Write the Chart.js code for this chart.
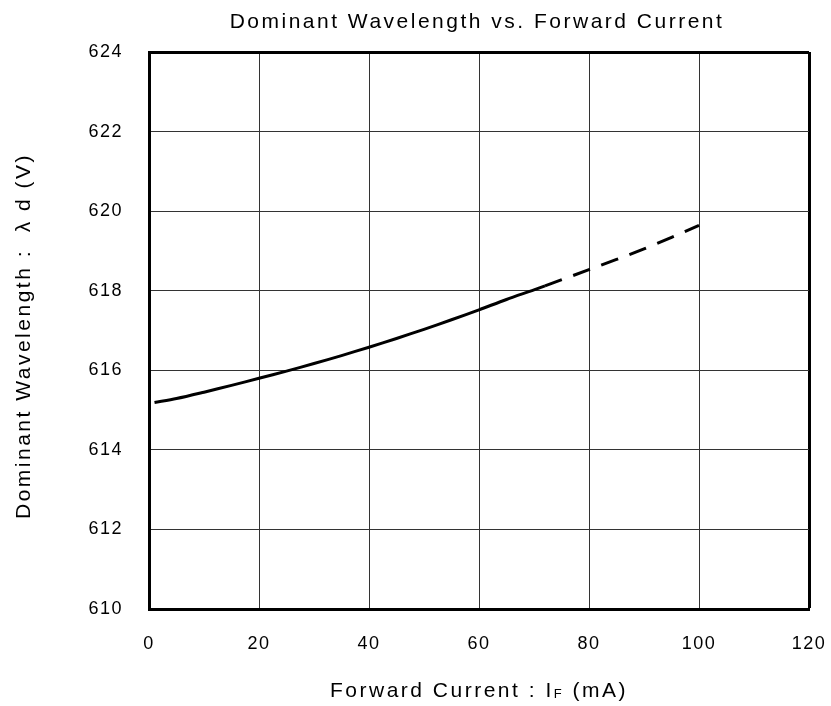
<!DOCTYPE html>
<html>
<head>
<meta charset="utf-8">
<script src="https://cdn.jsdelivr.net/npm/chart.js@4"></script>
<style>
  html, body { margin: 0; padding: 0; background: #fff; }
  #wrap { width: 831px; height: 706px; }
</style>
</head>
<body>
<div id="wrap"><canvas id="c" width="831" height="706"></canvas></div>
<script>
// ---- data ----
const solidCurrent = [1, 5, 10, 15, 20, 25, 30, 35, 40, 45, 50, 55, 60, 65, 70, 72];
const solidWavelength = [615.19, 615.29, 615.45, 615.62, 615.8, 615.98, 616.17, 616.37, 616.58, 616.8, 617.03, 617.27, 617.52, 617.78, 618.02, 618.12];
const dashCurrent = [72, 80, 90, 100];
const dashWavelength = [618.12, 618.53, 619.05, 619.64];
const xTicks = [0, 20, 40, 60, 80, 100, 120];
const yTicks = [610, 612, 614, 616, 618, 620, 622, 624];
const chartTitle = 'Dominant Wavelength vs. Forward Current';
const yTitle = 'Dominant Wavelength :  λ d (V)';
const xTitleMain = 'Forward Current : I';
const xTitleSub = 'F';
const xTitleEnd = ' (mA)';

const FONT = "'Liberation Sans', Arial, sans-serif";
const TICK_SPACING = '1.5px';
const TITLE_SPACING = '2.5px';

function toPoints(xs, ys) { return xs.map((x, i) => ({ x: x, y: ys[i] })); }

const spacingPlugin = {
  id: 'spacing',
  beforeUpdate(chart) { chart.ctx.letterSpacing = TICK_SPACING; },
  beforeLayout(chart) { chart.ctx.letterSpacing = TICK_SPACING; },
  beforeDraw(chart) { chart.ctx.letterSpacing = TICK_SPACING; }
};

const titlesPlugin = {
  id: 'titles',
  afterDraw(chart) {
    const ctx = chart.ctx;
    const a = chart.chartArea;
    const cx = (a.left + a.right) / 2;
    const big = '21px ' + FONT, small = '13px ' + FONT;
    ctx.save();
    ctx.letterSpacing = TITLE_SPACING;
    ctx.fillStyle = '#000';
    ctx.textBaseline = 'alphabetic';

    // chart title
    ctx.font = big;
    ctx.textAlign = 'center';
    ctx.fillText(chartTitle, cx - 2, 27.5);

    // x-axis title with subscript
    ctx.textAlign = 'left';
    ctx.font = big; const w1 = ctx.measureText(xTitleMain).width;
    ctx.font = small; const w2 = ctx.measureText(xTitleSub).width;
    ctx.font = big; const w3 = ctx.measureText(xTitleEnd).width;
    let x = cx - (w1 + w2 + w3) / 2;
    const y = 697;
    ctx.font = big; ctx.fillText(xTitleMain, x, y); x += w1;
    ctx.font = small; ctx.fillText(xTitleSub, x, y + 1); x += w2;
    ctx.font = big; ctx.fillText(xTitleEnd, x, y);

    // y-axis title
    ctx.translate(30, 336);
    ctx.rotate(-Math.PI / 2);
    ctx.textAlign = 'center';
    ctx.font = big;
    ctx.fillText(yTitle, 0, 0);
    ctx.restore();
  }
};

const lastWidth = (n) => (c) => (c.index === n - 1 ? 3 : 1);
const lastColor = (n) => (c) => (c.index === n - 1 ? '#000' : '#333');

new Chart(document.getElementById('c'), {
  type: 'scatter',
  data: {
    datasets: [
      {
        data: toPoints(solidCurrent, solidWavelength),
        showLine: true, borderColor: '#000', borderWidth: 3,
        pointRadius: 0, tension: 0.3, fill: false
      },
      {
        data: toPoints(dashCurrent, dashWavelength),
        showLine: true, borderColor: '#000', borderWidth: 3,
        borderDash: [18, 12], pointRadius: 0, tension: 0.3, fill: false
      }
    ]
  },
  options: {
    responsive: false,
    animation: false,
    devicePixelRatio: 1,
    layout: { padding: { left: 0, right: 0, top: 52, bottom: 0 } },
    plugins: {
      legend: { display: false },
      tooltip: { enabled: false },
      title: { display: false }
    },
    scales: {
      x: {
        type: 'linear', min: 0, max: 120,
        afterBuildTicks(s) { s.ticks = xTicks.map(v => ({ value: v })); },
        afterFit(s) { s.height = 97; s.paddingRight = 22; s.paddingLeft = 0; },
        grid: { color: lastColor(xTicks.length), lineWidth: lastWidth(xTicks.length), drawTicks: false },
        border: { display: true, color: '#000', width: 3 },
        ticks: { color: '#000', padding: 24, font: { family: FONT, size: 18 } }
      },
      y: {
        type: 'linear', min: 610, max: 624,
        afterBuildTicks(s) { s.ticks = yTicks.map(v => ({ value: v })); },
        afterFit(s) { s.width = 149; s.paddingTop = 0; s.paddingBottom = 0; },
        grid: { color: lastColor(yTicks.length), lineWidth: lastWidth(yTicks.length), drawTicks: false },
        border: { display: true, color: '#000', width: 3 },
        ticks: { color: '#000', padding: 26, font: { family: FONT, size: 18 } }
      }
    }
  },
  plugins: [spacingPlugin, titlesPlugin]
});
</script>
</body>
</html>
